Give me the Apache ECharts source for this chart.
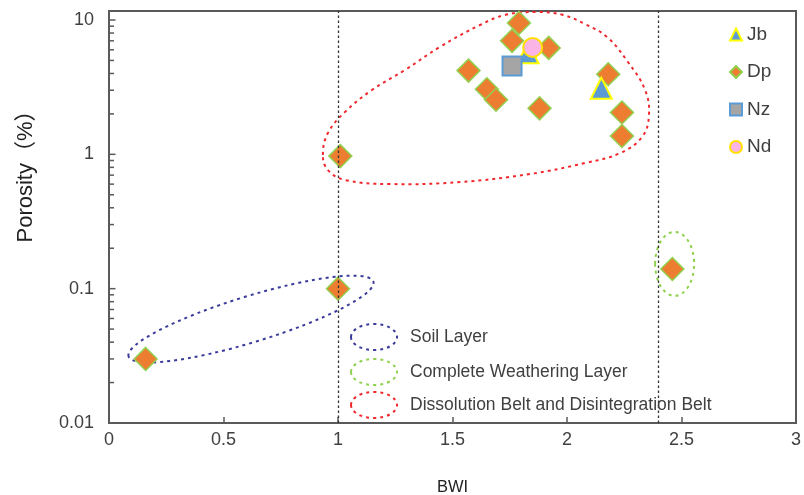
<!DOCTYPE html>
<html>
<head>
<meta charset="utf-8">
<script src="https://cdn.jsdelivr.net/npm/echarts@6/dist/echarts.min.js"></script>
<style>
html, body { margin: 0; padding: 0; background: #fff; }
#chart_scatter { width: 804px; height: 495px; }
</style>
</head>
<body>
<div id="chart_scatter"></div>
<script>
// sample values
const jbBwi = [1.83, 2.15]
const jbPorosity = [5.7, 3.1]

const dpBwi = [0.16, 1.0, 1.01, 2.46, 1.79, 1.76, 1.92, 1.57, 1.65, 1.69, 1.88, 2.18, 2.24, 2.24]
const dpPorosity = [0.03, 0.1, 0.97, 0.14, 9.5, 7.0, 6.2, 4.2, 3.05, 2.55, 2.2, 3.95, 2.05, 1.37]

const nzBwi = [1.76]
const nzPorosity = [4.55]

const ndBwi = [1.85]
const ndPorosity = [6.25]

const xTickLabels = ['0', '0.5', '1', '1.5', '2', '2.5', '3']
const yTickLabels = ['0.01', '0.1', '1', '10']
const yMajorTicks = [0.1, 1, 10]
const yMinorTicks = [
  0.02, 0.03, 0.04, 0.05, 0.06, 0.07, 0.08, 0.09,
  0.2, 0.3, 0.4, 0.5, 0.6, 0.7, 0.8, 0.9,
  2, 3, 4, 5, 6, 7, 8, 9
]
const boundaryBwi = [1.0, 2.4]

const zoneNames = ['Soil Layer', 'Complete Weathering Layer', 'Dissolution Belt and Disintegration Belt']
// soil layer and weathering layer rings (centres)
const zoneBwi = [0.62, 2.47]
const zonePorosity = [0.0594, 0.153]
// dissolution / disintegration belt outline, traced point by point
const beltBwi = [0.934, 0.956, 1.031, 1.148, 1.293, 1.445, 1.62, 1.729, 1.869, 1.983, 2.079, 2.175,
  2.266, 2.341, 2.358, 2.328, 2.231, 2.079, 1.838, 1.533, 1.227, 1.031, 0.956]
const beltPorosity = [0.989, 1.44, 2.07, 3.01, 4.25, 6.3, 9.18, 10.9, 11.47, 10.9, 9.33, 7.47,
  4.87, 3.01, 1.96, 1.35, 1.02, 0.862, 0.714, 0.622, 0.601, 0.644, 0.764]

// ring look (pixels / degrees)
const zoneStyle = [
  { color: '#3b3b9c', rx: 128, ry: 23, rotate: 17 },
  { color: '#8fd14f', rx: 19.5, ry: 32, rotate: 0 },
  { color: '#f0282d' }
]

const FONT = "'Liberation Sans', Arial, 'Noto Sans CJK SC', sans-serif"
const TEXT = '#404040'
const AXIS = '#5a5a5a'
const DASH = [3, 4]

const toPairs = (xs, ys) => xs.map((x, i) => [x, ys[i]])

const chart = echarts.init(document.getElementById('chart_scatter'))

const zoneLegend = []
zoneNames.forEach((name, i) => {
  const cy = [337, 372, 405][i]
  zoneLegend.push({
    type: 'ellipse',
    shape: { cx: 374, cy: cy, rx: 23, ry: 13 },
    style: { fill: 'none', stroke: zoneStyle[i].color, lineWidth: 2, lineDash: DASH },
    z: 10
  })
  zoneLegend.push({
    type: 'text',
    x: 410,
    y: cy,
    style: { text: name, fill: TEXT, font: '17.5px ' + FONT, verticalAlign: 'middle' },
    z: 10
  })
})

chart.setOption({
  animation: false,
  backgroundColor: '#fff',
  textStyle: { fontFamily: FONT },
  grid: {
    left: 109,
    right: 8,
    top: 11,
    bottom: 72,
    outerBoundsMode: 'none',
    show: true,
    borderColor: AXIS,
    borderWidth: 2
  },
  legend: {
    orient: 'vertical',
    left: 729,
    top: 25,
    padding: 0,
    itemWidth: 12,
    itemHeight: 12,
    itemGap: 18.5,
    data: ['Jb', 'Dp', 'Nz', 'Nd'],
    textStyle: { color: TEXT, fontSize: 19, fontFamily: FONT }
  },
  graphic: [
    {
      type: 'text',
      x: 26,
      y: 171,
      rotation: Math.PI / 2,
      style: {
        text: 'Porosity（%）',
        fill: '#222',
        font: '22px ' + FONT,
        align: 'center',
        verticalAlign: 'middle'
      }
    },
    ...zoneLegend
  ],
  xAxis: {
    type: 'value',
    min: 0,
    max: 3,
    interval: 0.5,
    name: 'BWI',
    nameLocation: 'middle',
    nameGap: 56,
    nameTextStyle: { color: '#222', fontSize: 16.5, fontFamily: FONT },
    axisLine: { lineStyle: { color: AXIS, width: 2 } },
    axisTick: { inside: true, length: 6, lineStyle: { color: AXIS, width: 1.5 } },
    axisLabel: {
      color: TEXT,
      fontSize: 18,
      margin: 8,
      formatter: v => xTickLabels[Math.round(v / 0.5)] || ''
    },
    splitLine: { show: false }
  },
  yAxis: {
    type: 'log',
    logBase: 10,
    min: 0.01,
    max: 11.67,
    axisLine: { show: true, lineStyle: { color: AXIS, width: 2 } },
    axisTick: { show: false },
    axisLabel: {
      color: TEXT,
      fontSize: 18,
      margin: 15,
      formatter: v => {
        const e = Math.log10(v)
        if (Math.abs(e - Math.round(e)) > 1e-6) return ''
        return yTickLabels[Math.round(e) + 2] || ''
      }
    },
    splitLine: { show: false }
  },
  series: [
    {
      name: 'ticks',
      type: 'custom',
      silent: true,
      z: 5,
      data: yMinorTicks.map(v => [0, v, 5]).concat(yMajorTicks.map(v => [0, v, 6.5])),
      renderItem(params, api) {
        const p = api.coord([api.value(0), api.value(1)])
        return {
          type: 'line',
          shape: { x1: p[0], y1: p[1], x2: p[0] + api.value(2), y2: p[1] },
          style: { stroke: AXIS, lineWidth: 1.5 }
        }
      }
    },
    {
      name: 'zones',
      type: 'custom',
      silent: true,
      z: 1,
      data: toPairs(zoneBwi, zonePorosity),
      renderItem(params, api) {
        const p = api.coord([api.value(0), api.value(1)])
        const s = zoneStyle[params.dataIndex]
        return {
          type: 'ellipse',
          x: p[0],
          y: p[1],
          rotation: s.rotate * Math.PI / 180,
          shape: { cx: 0, cy: 0, rx: s.rx, ry: s.ry },
          style: { fill: 'none', stroke: s.color, lineWidth: 2, lineDash: DASH }
        }
      }
    },
    {
      name: 'belt',
      type: 'custom',
      silent: true,
      z: 1,
      data: [[beltBwi[0], beltPorosity[0]]],
      renderItem(params, api) {
        const pts = toPairs(beltBwi, beltPorosity).map(d => api.coord(d))
        return {
          type: 'polygon',
          shape: { points: pts, smooth: 0.4 },
          style: { fill: 'none', stroke: zoneStyle[2].color, lineWidth: 2, lineDash: DASH }
        }
      }
    },
    {
      name: 'Dp',
      type: 'scatter',
      symbol: 'diamond',
      symbolSize: 23,
      z: 2,
      itemStyle: { color: '#ed7d31', borderColor: '#92d050', borderWidth: 1.5, opacity: 1 },
      data: toPairs(dpBwi, dpPorosity),
      markLine: {
        silent: true,
        symbol: ['none', 'none'],
        label: { show: false },
        lineStyle: { color: '#333', type: [2.5, 2.5], width: 1.3 },
        data: boundaryBwi.map(v => ({ xAxis: v }))
      }
    },
    {
      name: 'Jb',
      type: 'scatter',
      symbol: 'triangle',
      symbolSize: 21,
      z: 3,
      itemStyle: { color: '#5b9bd5', borderColor: '#ffff00', borderWidth: 2, opacity: 1 },
      data: toPairs(jbBwi, jbPorosity)
    },
    {
      name: 'Nz',
      type: 'scatter',
      symbol: 'rect',
      symbolSize: 19,
      z: 4,
      itemStyle: { color: '#a5a5a5', borderColor: '#5b9bd5', borderWidth: 2, opacity: 1 },
      data: toPairs(nzBwi, nzPorosity)
    },
    {
      name: 'Nd',
      type: 'scatter',
      symbol: 'circle',
      symbolSize: 19,
      z: 5,
      itemStyle: { color: '#fbb4e6', borderColor: '#ffe000', borderWidth: 2, opacity: 1 },
      data: toPairs(ndBwi, ndPorosity)
    }
  ]
})
</script>
</body>
</html>
